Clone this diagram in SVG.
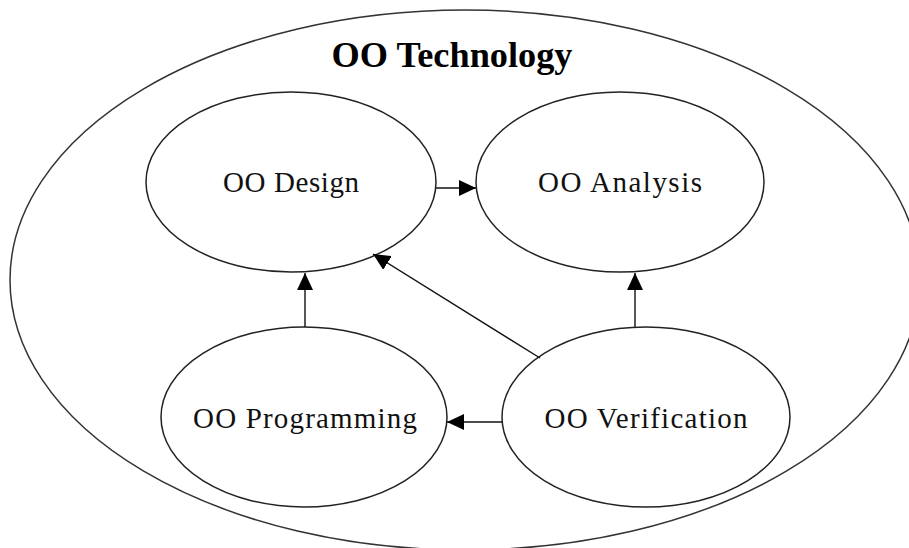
<svg xmlns="http://www.w3.org/2000/svg" width="909" height="548" viewBox="0 0 909 548">
<style>
.shape{fill:none;stroke:#222;stroke-width:1.5}
.outer{fill:none;stroke:#333;stroke-width:1.5}
.lbl{font-family:"Liberation Serif","Times New Roman",serif;font-size:29px;fill:#111;text-anchor:middle}
.title{font-family:"Liberation Serif","Times New Roman",serif;font-size:36px;font-weight:bold;fill:#000;text-anchor:middle}
.conn{stroke:#111;stroke-width:1.4;fill:none;marker-end:url(#ah)}
</style>
<defs>
<marker id="ah" markerUnits="userSpaceOnUse" markerWidth="18" markerHeight="16" refX="17" refY="8" orient="auto">
<path d="M0,0 L17,8 L0,16 Z" fill="#000"/>
</marker>
</defs>
<rect width="909" height="548" fill="#fff"/>
<g id="technology">
<ellipse class="outer" cx="465" cy="280" rx="455" ry="270"/>
<text class="title" x="452" y="67" textLength="241" lengthAdjust="spacingAndGlyphs">OO Technology</text>
</g>
<g id="design">
<ellipse class="shape" cx="291" cy="182" rx="145" ry="90"/>
<text class="lbl" x="291" y="192" textLength="136" lengthAdjust="spacing">OO Design</text>
</g>
<g id="analysis">
<ellipse class="shape" cx="620" cy="182" rx="144" ry="90"/>
<text class="lbl" x="620" y="192" textLength="164" lengthAdjust="spacing">OO Analysis</text>
</g>
<g id="programming">
<ellipse class="shape" cx="304" cy="417" rx="143" ry="90"/>
<text class="lbl" x="305" y="428" textLength="224" lengthAdjust="spacing">OO Programming</text>
</g>
<g id="verification">
<ellipse class="shape" cx="646" cy="417" rx="144" ry="90"/>
<text class="lbl" x="646" y="428" textLength="203" lengthAdjust="spacing">OO Verification</text>
</g>
<g id="connectors">
<line class="conn" x1="436" y1="188" x2="476" y2="188"/>
<line class="conn" x1="305" y1="327" x2="305" y2="273"/>
<line class="conn" x1="635" y1="327" x2="635" y2="273"/>
<line class="conn" x1="540" y1="358" x2="373" y2="254"/>
<line class="conn" x1="502" y1="422" x2="447" y2="422"/>
</g>
</svg>
